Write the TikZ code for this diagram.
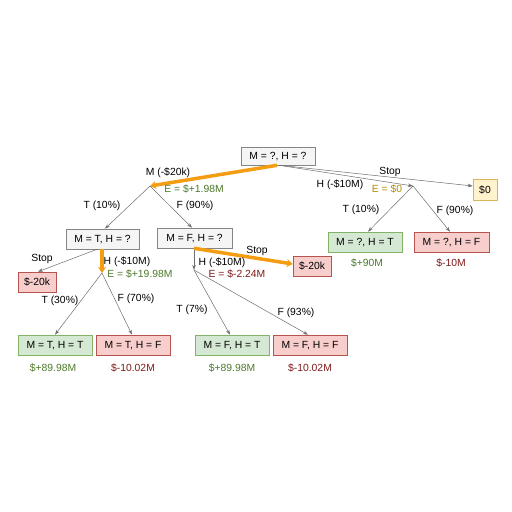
\documentclass[tikz,border=0pt]{standalone}
\usepackage{fontspec}
\setmainfont{Liberation Sans}
\usetikzlibrary{arrows.meta}
\definecolor{gfill}{HTML}{F5F5F5}
\definecolor{gdraw}{HTML}{666666}
\definecolor{okfill}{HTML}{D5E8D4}
\definecolor{okdraw}{HTML}{82B366}
\definecolor{badfill}{HTML}{F8CECC}
\definecolor{baddraw}{HTML}{B85450}
\definecolor{yfill}{HTML}{FFF2CC}
\definecolor{ydraw}{HTML}{D6B656}
\definecolor{orangeline}{HTML}{F59D12}
\definecolor{gtext}{HTML}{4D7A2A}
\definecolor{rtext}{HTML}{7F1A1A}
\definecolor{otext}{HTML}{B08D00}
\definecolor{edgec}{HTML}{6E6E6E}
\tikzset{
  every node/.style={font=\fontsize{10.4}{12}\selectfont, inner sep=0pt, text height=7.5bp, text depth=0bp},
  box/.style={draw, line width=0.6bp, minimum height=20bp, minimum width=74bp},
  neutral/.style={box, fill=gfill, draw=gdraw!80},
  good/.style={box, fill=okfill, draw=okdraw},
  bad/.style={box, fill=badfill, draw=baddraw},
  yell/.style={box, fill=yfill, draw=ydraw},
  edge/.style={draw=edgec, line width=0.5bp, -{Stealth[length=5bp,width=3.5bp]}},
  best/.style={draw=orangeline, line width=3.5bp, -{Stealth[length=6bp,width=8bp]}},
  lbl/.style={text=black},
  gval/.style={text=gtext},
  rval/.style={text=rtext},
  oval/.style={text=otext}
}
\begin{document}
\begin{tikzpicture}[x=1bp,y=-1bp]
\useasboundingbox[fill=white] (0,0) rectangle (512,512);
% nodes
\node[neutral, minimum height=18bp] (root) at (278,156) {M = ?, H = ?};
\node[yell, minimum width=24bp, minimum height=21bp] (zero) at (485,189.5) {\$0};
\node[neutral, minimum width=73bp] (mt) at (102.5,239) {M = T, H = ?};
\node[neutral, minimum width=75bp] (mf) at (194.5,238) {M = F, H = ?};
\node[good] (qt) at (365,242) {M = ?, H = T};
\node[bad, minimum width=75bp] (qf) at (451.5,242) {M = ?, H = F};
\node[bad, minimum width=38bp] (sl) at (37,282) {\$-20k};
\node[bad, minimum width=38bp] (sm) at (312,266) {\$-20k};
\node[good] (tt) at (55,345) {M = T, H = T};
\node[bad] (tf) at (133,345) {M = T, H = F};
\node[good] (ft) at (232,345) {M = F, H = T};
\node[bad] (ff) at (310,345) {M = F, H = F};
% junction points
\coordinate (jm) at (150,186);
\coordinate (jh) at (413,186);
\coordinate (jl) at (102,273);
\coordinate (jf) at (194,270);
% connectors
\draw[edge] ([xshift=1bp]root.south) -- (jh);
\draw[edge] ([xshift=2bp]root.south) -- ([yshift=3.5bp]zero.west);
\draw[best] ([xshift=-1bp]root.south) -- (jm);
\draw[edge] (jm) -- ([xshift=2.5bp]mt.north);
\draw[edge] (jm) -- ([xshift=-2.5bp]mf.north);
\draw[edge] (jh) -- ([xshift=3bp]qt.north);
\draw[edge] (jh) -- ([xshift=-1.5bp]qf.north);
\draw[best] ([xshift=-0.5bp]mt.south) -- (jl);
\draw[edge] ([xshift=-5.5bp]mt.south) -- ([xshift=1bp]sl.north);
\draw[edge] (jl) -- (tt.north);
\draw[edge] (jl) -- ([xshift=-1bp]tf.north);
\draw[edge] ([xshift=-0.5bp]mf.south) -- (jf);
\draw[best] ([xshift=-0.5bp]mf.south) -- ([yshift=2bp]sm.west);
\draw[edge] (jf) -- ([xshift=-2bp]ft.north);
\draw[edge] (jf) -- ([xshift=-2bp]ff.north);
% labels
\node[lbl] (l1) at (168,172) {M (-\$20k)};
\node[gval] (l2) at (194,189) {E = \$+1.98M};
\node[lbl] (l3) at (390,171) {Stop};
\node[lbl] (l4) at (340,184) {H (-\$10M)};
\node[oval] (l5) at (387,189) {E = \$0};
\node[lbl] (l6) at (102,205) {T (10\%)};
\node[lbl] (l7) at (195,205) {F (90\%)};
\node[lbl] (l8) at (361,209) {T (10\%)};
\node[lbl] (l9) at (455,210) {F (90\%)};
\node[lbl] (l10) at (42,258) {Stop};
\node[lbl] (l11) at (127,261) {H (-\$10M)};
\node[gval] (l12) at (140,274) {E = \$+19.98M};
\node[lbl] (l13) at (257,250) {Stop};
\node[lbl] (l14) at (222,262) {H (-\$10M)};
\node[rval] (l15) at (237,274) {E = \$-2.24M};
\node[lbl] (l16) at (60,300) {T (30\%)};
\node[lbl] (l17) at (136,298) {F (70\%)};
\node[lbl] (l18) at (192,309) {T (7\%)};
\node[lbl] (l19) at (296,312) {F (93\%)};
\node[gval] (v1) at (367,263) {\$+90M};
\node[rval] (v2) at (451,263) {\$-10M};
\node[gval] (v3) at (53,368) {\$+89.98M};
\node[rval] (v4) at (133,368) {\$-10.02M};
\node[gval] (v5) at (232,368) {\$+89.98M};
\node[rval] (v6) at (310,368) {\$-10.02M};
\end{tikzpicture}
\end{document}
